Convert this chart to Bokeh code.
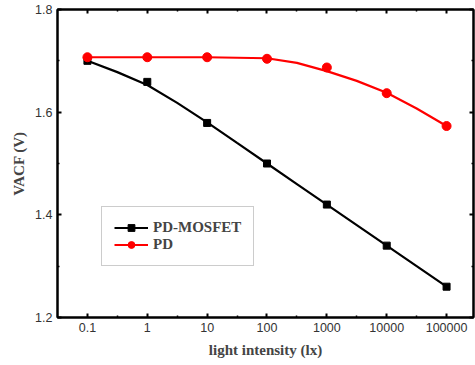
from bokeh.plotting import figure
from bokeh.models import Range1d, FixedTicker, LinearAxis, LogAxis, Legend, LegendItem
from bokeh.embed import file_html
from bokeh.resources import INLINE

# ---- data ----
intensity = [0.1, 1, 10, 100, 1000, 10000, 100000]
pd_mosfet = [1.700, 1.659, 1.579, 1.500, 1.420, 1.340, 1.260]
pd = [1.707, 1.707, 1.707, 1.704, 1.687, 1.637, 1.573]

# fitted curves (half-decade steps)
fit_x = [0.1, 0.316, 1, 3.16, 10, 31.6, 100, 316, 1000, 3162, 10000, 31623, 100000]
fit_mosfet = [1.700, 1.678, 1.653, 1.618, 1.580, 1.540, 1.500, 1.460, 1.420, 1.380, 1.340, 1.300, 1.260]
fit_pd = [1.707, 1.707, 1.707, 1.707, 1.707, 1.706, 1.705, 1.696, 1.680, 1.661, 1.638, 1.607, 1.573]

x_ticks = [0.1, 1, 10, 100, 1000, 10000, 100000]
x_tick_labels = ["0.1", "1", "10", "100", "1000", "10000", "100000"]
x_minor = [0.0316, 0.316, 3.16, 31.6, 316, 3162, 31623, 316228]
y_ticks = [1.2, 1.4, 1.6, 1.8]
y_minor = [1.3, 1.5, 1.7]

p = figure(width=475, height=365, x_axis_type="log",
           x_range=Range1d(10 ** -1.5, 10 ** 5.45), y_range=Range1d(1.2, 1.8),
           output_backend="svg", toolbar_location=None,
           min_border_left=57, min_border_right=2, min_border_top=9, min_border_bottom=48)
p.grid.visible = False
p.outline_line_color = "black"
p.outline_line_width = 2
p.background_fill_color = "white"
p.border_fill_color = "white"

xt = FixedTicker(ticks=x_ticks, minor_ticks=x_minor)
yt = FixedTicker(ticks=y_ticks, minor_ticks=y_minor)

def style(ax, labels=True):
    ax.axis_line_width = 2
    ax.axis_line_color = "black"
    ax.major_tick_in = 4
    ax.major_tick_out = 0
    ax.minor_tick_in = 2
    ax.minor_tick_out = 0
    ax.major_tick_line_width = 2
    ax.minor_tick_line_width = 1.5
    ax.major_label_text_font = "Liberation Sans"
    ax.major_label_text_font_size = "12.5px"
    ax.major_label_text_color = "#333333"
    if not labels:
        ax.major_label_text_font_size = "6px"
        ax.major_label_text_alpha = 0
        ax.major_label_standoff = 0

xa = p.xaxis[0]
xa.ticker = xt
xa.major_label_overrides = {t: l for t, l in zip(x_ticks, x_tick_labels)}
style(xa)
xa.major_label_standoff = 5
xa.axis_label = "light intensity (lx)"
xa.axis_label_text_font = "Liberation Serif"
xa.axis_label_text_font_style = "bold"
xa.axis_label_text_font_size = "15px"
xa.axis_label_standoff = 7

ya = p.yaxis[0]
ya.ticker = yt
style(ya)
ya.major_label_standoff = 5
ya.axis_label = "VACF (V)"
ya.axis_label_text_font = "Liberation Serif"
ya.axis_label_text_font_style = "bold"
ya.axis_label_text_font_size = "15px"
ya.axis_label_standoff = 5

top = LogAxis(ticker=FixedTicker(ticks=x_ticks, minor_ticks=x_minor))
style(top, labels=False)
p.add_layout(top, "above")
right = LinearAxis(ticker=FixedTicker(ticks=y_ticks, minor_ticks=y_minor))
style(right, labels=False)
p.add_layout(right, "right")

l1 = p.line(fit_x, fit_mosfet, line_color="black", line_width=2.2)
s1 = p.scatter(intensity, pd_mosfet, marker="square", size=7, color="black")
l2 = p.line(fit_x, fit_pd, line_color="#ff0000", line_width=2.2)
s2 = p.scatter(intensity, pd, marker="circle", size=9, color="#ff0000")

legend = Legend(items=[LegendItem(label="PD-MOSFET", renderers=[l1, s1]),
                       LegendItem(label="PD", renderers=[l2, s2])],
                location=(44, 51))
legend.label_text_font = "Liberation Serif"
legend.label_text_font_style = "bold"
legend.label_text_font_size = "15px"
legend.border_line_color = "#999999"
legend.border_line_width = 1
legend.glyph_width = 34
legend.glyph_height = 17
legend.label_height = 17
legend.spacing = 0
legend.padding = 12
legend.margin = 0
legend.label_standoff = 5
legend.background_fill_alpha = 1
p.add_layout(legend, "center")

open("out.html", "w").write(file_html(p, INLINE))
